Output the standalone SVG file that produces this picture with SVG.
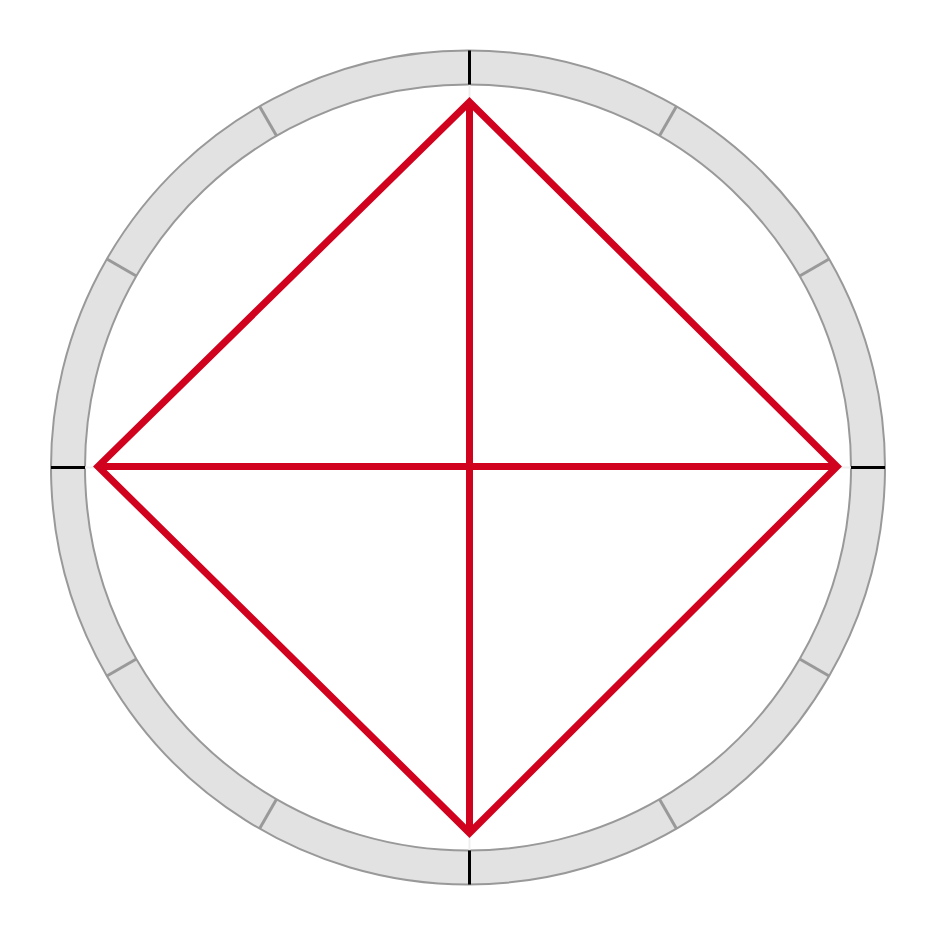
<svg xmlns="http://www.w3.org/2000/svg" width="942" height="927" viewBox="0 0 942 927">
<style>
.band{fill:#e2e2e2;stroke:#999;stroke-width:2;fill-rule:evenodd}
.tick{stroke:#999;stroke-width:3}
.major{stroke:#000;stroke-width:3}
.faint{stroke:#eee;stroke-width:2}
.red{fill:none;stroke:#d0021e;stroke-width:7;stroke-linejoin:miter}
</style>
<rect width="942" height="927" fill="#fff"/>
<g id="ring">
<path class="band" d="M468,50.5 A417,417 0 1 1 467.99,50.5 Z M468,84.5 A383,383 0 1 0 468.01,84.5 Z"/>
<g transform="translate(468,467.5)">
<line class="tick" x1="0" y1="-383" x2="0" y2="-417" transform="rotate(30)"/>
<line class="tick" x1="0" y1="-383" x2="0" y2="-417" transform="rotate(60)"/>
<line class="tick" x1="0" y1="-383" x2="0" y2="-417" transform="rotate(120)"/>
<line class="tick" x1="0" y1="-383" x2="0" y2="-417" transform="rotate(150)"/>
<line class="tick" x1="0" y1="-383" x2="0" y2="-417" transform="rotate(210)"/>
<line class="tick" x1="0" y1="-383" x2="0" y2="-417" transform="rotate(240)"/>
<line class="tick" x1="0" y1="-383" x2="0" y2="-417" transform="rotate(300)"/>
<line class="tick" x1="0" y1="-383" x2="0" y2="-417" transform="rotate(330)"/>
<line class="major" x1="1.5" y1="-383" x2="1.5" y2="-417"/>
<line class="major" x1="1.5" y1="383" x2="1.5" y2="417"/>
<line class="major" x1="-383" y1="0" x2="-417" y2="0"/>
<line class="major" x1="383" y1="0" x2="417" y2="0"/>
</g>
</g>
<g id="connectors">
<line class="faint" x1="469.5" y1="85" x2="469.5" y2="100"/>
<line class="faint" x1="469.5" y1="835" x2="469.5" y2="850"/>
<line class="faint" x1="85" y1="467.5" x2="96" y2="467.5"/>
<line class="faint" x1="840" y1="467.5" x2="851" y2="467.5"/>
<polygon class="red" points="469.5,102 837,466.5 469.5,833 98,466.5"/>
<line class="red" x1="469.5" y1="102" x2="469.5" y2="833"/>
<line class="red" x1="98" y1="466.5" x2="837" y2="466.5"/>
</g>
</svg>
